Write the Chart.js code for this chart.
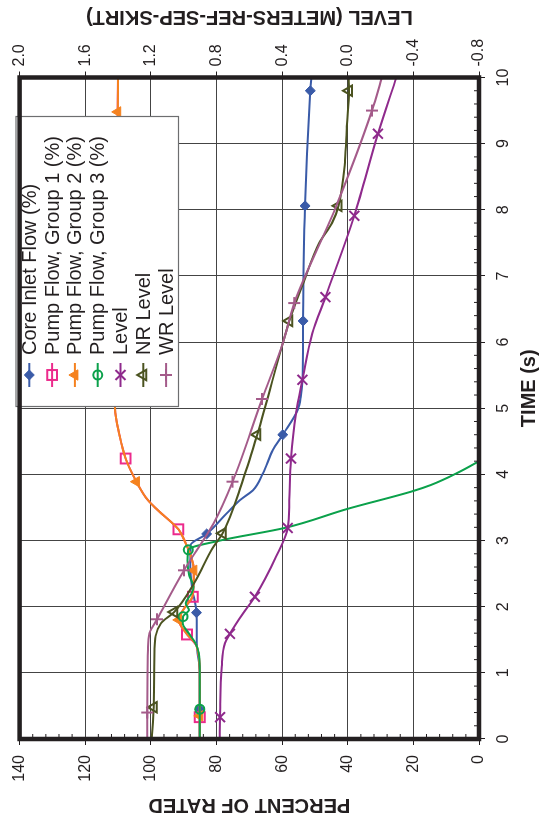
<!DOCTYPE html>
<html>
<head>
<meta charset="utf-8">
<script src="https://cdn.jsdelivr.net/npm/chart.js@4.4.1/dist/chart.umd.min.js"></script>
<style>
html,body{margin:0;padding:0;background:#fff;overflow:hidden;width:543px;height:817px;}
#wrap{position:absolute;left:0;top:0;width:817px;height:543px;transform-origin:0 0;transform:translate(0px,817px) rotate(-90deg);background:#fff;}
canvas{display:block;}
</style>
</head>
<body>
<div id="wrap"><canvas id="c" width="817" height="543"></canvas></div>
<script>
// ---------- data (time in s; flows in % of rated; levels in metres) ----------
const coreT = [0, 0.45, 1.0, 1.45, 1.91, 2.3, 2.6, 2.93, 3.1, 3.41, 3.61, 3.76, 4.02, 4.37, 4.6, 4.97, 5.17, 5.42, 6.32, 8.06, 9.8, 10];
const coreV = [85.1, 85.1, 85.1, 86.0, 86.1, 87.5, 88.0, 87.9, 83.0, 76.9, 72.9, 68.9, 65.8, 62.8, 59.8, 55.3, 54.3, 53.8, 53.6, 53.0, 51.4, 51.1];
const coreMarks = [0.45, 1.91, 3.1, 4.6, 6.32, 8.06, 9.8];

const pump1T = [0, 0.33, 1.0, 1.4, 1.58, 1.8, 2.0, 2.15, 2.55, 2.8, 2.96, 3.17, 3.46, 3.61, 3.89, 4.24, 4.6, 5.0, 6.0, 7.0, 8.0, 9.0, 10];
const pump1V = [85.1, 85.1, 85.1, 86.0, 89.0, 91.5, 89.5, 87.2, 86.9, 88.0, 89.4, 91.6, 97.9, 100.9, 104.4, 107.7, 109.6, 110.9, 111.0, 110.8, 110.5, 110.2, 110.0];
const pump1Marks = [0.33, 1.58, 2.15, 3.17, 4.24];

const pump2T = [0, 0.35, 1.0, 1.4, 1.6, 1.8, 2.0, 2.15, 2.55, 2.8, 2.96, 3.17, 3.46, 3.61, 3.89, 4.24, 4.6, 5.0, 6.0, 7.0, 8.0, 9.0, 9.48, 10];
const pump2V = [85.1, 85.1, 85.1, 86.0, 89.2, 91.5, 89.5, 87.4, 86.9, 88.0, 89.4, 91.6, 97.9, 100.9, 104.4, 107.7, 109.6, 110.9, 111.0, 110.8, 110.5, 110.2, 110.1, 110.0];
const pump2Marks = [0.35, 1.8, 2.55, 3.89, 9.48];

const pump3T = [0, 0.45, 1.0, 1.3, 1.45, 1.6, 1.75, 1.85, 1.95, 2.05, 2.2, 2.3, 2.47, 2.7, 2.86, 3.0, 3.19, 3.48, 3.75, 3.84, 4.02, 4.22];
const pump3V = [85.1, 85.1, 85.1, 85.4, 86.4, 88.5, 90.3, 90.2, 88.4, 89.4, 87.6, 87.0, 88.3, 88.8, 88.6, 78.9, 59.3, 40.0, 20.0, 14.7, 6.7, -0.8];
const pump3Marks = [0.45, 1.85, 2.86];

const levelT = [0, 0.33, 1.09, 1.45, 1.59, 1.9, 2.15, 2.76, 3.19, 3.61, 4.24, 4.92, 5.43, 6.13, 6.68, 7.91, 9.15, 10];
const levelV = [0.78, 0.778, 0.768, 0.748, 0.718, 0.638, 0.566, 0.436, 0.366, 0.356, 0.346, 0.316, 0.276, 0.216, 0.136, -0.04, -0.184, -0.296];
const levelMarks = [0.33, 1.59, 2.15, 3.19, 4.24, 5.43, 6.68, 7.91, 9.15];

const nrT = [0, 0.48, 1.35, 1.75, 1.92, 2.35, 2.91, 3.11, 3.92, 4.6, 5.98, 6.32, 6.9, 7.49, 7.8, 8.06, 8.75, 9.26, 9.8, 10];
const nrV = [1.194, 1.182, 1.178, 1.138, 1.058, 0.938, 0.818, 0.762, 0.638, 0.552, 0.396, 0.356, 0.27, 0.176, 0.096, 0.056, 0.016, 0.006, -0.008, -0.006];
const nrMarks = [0.48, 1.92, 3.11, 4.6, 6.32, 8.06, 9.8];

const wrT = [0, 0.4, 1.35, 1.6, 1.81, 2.55, 3.26, 3.89, 5.14, 5.98, 6.59, 8.02, 9.5, 10];
const wrV = [1.222, 1.222, 1.218, 1.208, 1.162, 0.998, 0.818, 0.702, 0.522, 0.396, 0.326, 0.076, -0.148, -0.208];
const wrMarks = [0.4, 1.81, 2.55, 3.89, 5.14, 6.59, 9.5];

const seriesLabels = ['Core Inlet Flow (%)', 'Pump Flow, Group 1 (%)', 'Pump Flow, Group 2 (%)', 'Pump Flow, Group 3 (%)', 'Level', 'NR Level', 'WR Level'];
const axisTitles = {time: 'TIME (s)', percent: 'PERCENT OF RATED', level: 'LEVEL (METERS-REF-SEP-SKIRT)'};

// ---------- styling ----------
const FONT = "'Liberation Sans', Arial, Helvetica, sans-serif";
const INK = '#231f20';
const NONE = 'rgba(0,0,0,0)';
const series = [
  {T: coreT,  V: coreV,  M: coreMarks,  axis: 'y',  color: '#3a5ba8', style: 'rectRot',  r: 5,   filled: true,  pw: 1},
  {T: pump1T, V: pump1V, M: pump1Marks, axis: 'y',  color: '#ec2a8c', style: 'rect',     r: 7,   filled: false, pw: 2},
  {T: pump2T, V: pump2V, M: pump2Marks, axis: 'y',  color: '#f5821f', style: 'triangle', r: 6,   filled: true,  pw: 1},
  {T: pump3T, V: pump3V, M: pump3Marks, axis: 'y',  color: '#0ba14b', style: 'circle',   r: 4.5, filled: false, pw: 2},
  {T: levelT, V: levelV, M: levelMarks, axis: 'y1', color: '#8f2a8c', style: 'crossRot', r: 7,   filled: false, pw: 2},
  {T: nrT,    V: nrV,    M: nrMarks,    axis: 'y1', color: '#4b5320', style: 'triangle', r: 6,   filled: false, pw: 2},
  {T: wrT,    V: wrV,    M: wrMarks,    axis: 'y1', color: '#a45b8a', style: 'cross',    r: 6,   filled: false, pw: 2}
];

const datasets = series.map((s, i) => ({
  label: seriesLabels[i],
  data: s.T.map((t, k) => ({x: t, y: s.V[k]})),
  yAxisID: s.axis,
  borderColor: s.color,
  backgroundColor: s.filled ? s.color : NONE,
  borderWidth: 2,
  cubicInterpolationMode: 'monotone',
  pointStyle: s.style,
  pointRadius: ctx => s.M.includes(s.T[ctx.dataIndex]) ? s.r : 0,
  pointHoverRadius: 0,
  pointBorderColor: s.color,
  pointBackgroundColor: s.filled ? s.color : NONE,
  pointBorderWidth: s.pw,
  order: series.length - 1 - i
}));

const tickFont = {family: FONT, size: 16};
const titleFont = {family: FONT, size: 20, weight: 'bold'};

// legend inside the plot, axis titles, frame and inside minor ticks
const decor = {
  id: 'decor',
  afterDatasetsDraw(chart) {
    const ctx = chart.ctx;
    const bx = 410.5, by = 16, bw = 290, bh = 162.5;
    ctx.save();
    ctx.fillStyle = '#fff';
    ctx.fillRect(bx, by, bw, bh);
    ctx.strokeStyle = '#6d6e70';
    ctx.lineWidth = 1.2;
    ctx.strokeRect(bx, by, bw, bh);
    ctx.font = '20px ' + FONT;
    ctx.textBaseline = 'middle';
    ctx.textAlign = 'left';
    series.forEach((s, i) => {
      const y = 29.3 + i * 22.8;
      ctx.strokeStyle = s.color;
      ctx.lineWidth = 2;
      ctx.beginPath(); ctx.moveTo(430, y); ctx.lineTo(454, y); ctx.stroke();
      ctx.fillStyle = s.filled ? s.color : NONE;
      ctx.lineWidth = s.pw;
      Chart.helpers.drawPoint(ctx, {pointStyle: s.style, radius: s.r, borderWidth: s.pw, rotation: 0}, 442, y);
      ctx.fillStyle = INK;
      ctx.fillText(seriesLabels[i], 462, y + 1);
    });
    ctx.restore();
  },
  afterDraw(chart) {
    const ctx = chart.ctx, a = chart.chartArea;
    const xs = chart.scales.x, ys = chart.scales.y;
    ctx.save();
    ctx.strokeStyle = INK;
    ctx.lineWidth = 1;
    ctx.beginPath();
    for (let k = 1; k < 50; k++) {
      if (k % 5 === 0) continue;
      const px = xs.getPixelForValue(k * 0.2);
      ctx.moveTo(px, a.bottom); ctx.lineTo(px, a.bottom - 5);
    }
    for (let k = 1; k < 35; k++) {
      if (k % 5 === 0) continue;
      const py = ys.getPixelForValue(k * 4);
      ctx.moveTo(a.left, py); ctx.lineTo(a.left + 5, py);
    }
    ctx.stroke();
    ctx.lineWidth = 4.5;
    ctx.strokeRect(a.left, a.top, a.right - a.left, a.bottom - a.top);

    // axis titles
    ctx.fillStyle = INK;
    ctx.font = 'bold 20px ' + FONT;
    ctx.textAlign = 'center';
    ctx.textBaseline = 'middle';
    const cy = (a.top + a.bottom) / 2;
    const cx = (a.left + a.right) / 2;
    ctx.save();
    ctx.translate(chart.width - 16.4, cy);
    ctx.rotate(-Math.PI / 2);
    ctx.fillText(axisTitles.level, 0, 0);
    ctx.restore();
    ctx.fillText(axisTitles.time, cx + 20, chart.height - 14);
    ctx.restore();
  }
};

new Chart(document.getElementById('c'), {
  type: 'line',
  data: {datasets},
  plugins: [decor],
  options: {
    responsive: false,
    animation: false,
    devicePixelRatio: 1,
    layout: {padding: {top: 13.3, left: 0, right: 0, bottom: 0}},
    plugins: {legend: {display: false}, tooltip: {enabled: false}},
    scales: {
      x: {
        type: 'linear', position: 'bottom', min: 0, max: 10,
        ticks: {stepSize: 1, padding: 9, color: INK, font: tickFont, maxRotation: 0, autoSkip: false},
        grid: {color: '#444', lineWidth: 1, drawTicks: true, tickLength: 6, tickColor: INK},
        border: {display: false},
        title: {display: false},
        afterFit: s => { s.height = 64; }
      },
      y: {
        type: 'linear', position: 'left', min: 0, max: 140,
        ticks: {stepSize: 20, padding: 10, color: INK, font: tickFont},
        grid: {color: '#444', lineWidth: 1, drawTicks: true, tickLength: 6, tickColor: INK},
        border: {display: false},
        title: {display: true, text: axisTitles.percent, color: INK, font: titleFont, padding: {top: 0, bottom: 0}},
        afterFit: s => { s.width = 78; }
      },
      y1: {
        type: 'linear', position: 'right', min: -0.8, max: 2.0,
        ticks: {stepSize: 0.4, padding: 5, color: INK, font: tickFont,
                callback: v => Math.abs(v) < 1e-9 ? '0.0' : Number(v).toFixed(1)},
        grid: {drawOnChartArea: false, drawTicks: true, tickLength: 6, tickColor: INK, color: INK},
        border: {display: false},
        title: {display: false},
        afterFit: s => { s.width = 77.5; }
      }
    }
  }
});
</script>
</body>
</html>
